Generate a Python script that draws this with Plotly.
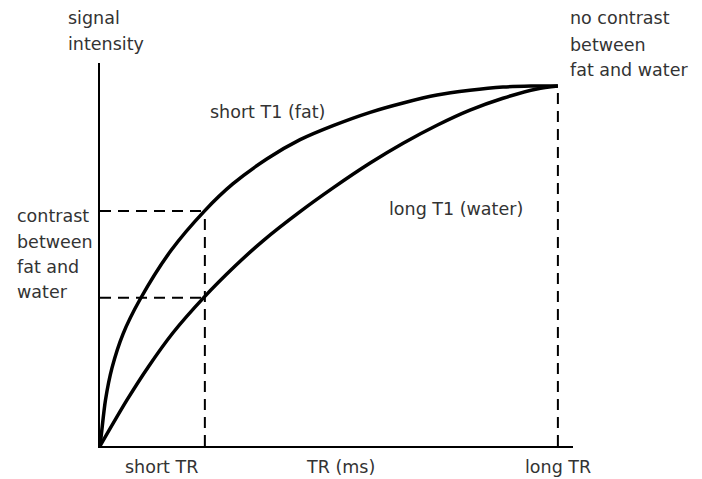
import plotly.graph_objects as go

# ---- data (TR and signal in arbitrary 0-100 units) ----
fat_tr = [0, 0.33, 1.2, 2.62, 5.02, 8.73, 15.5, 22.9, 29.0, 36.5, 43.7, 50.9, 59.0, 66.2, 73.6, 80.8, 88.0, 94.1, 100]
fat_signal = [0, 3.6, 12.8, 21.7, 31.1, 40.7, 54.3, 65.4, 72.8, 79.8, 85.1, 89.0, 92.7, 95.3, 97.5, 98.8, 99.7, 99.98, 100]

water_tr = [0, 5.9, 10.5, 15.9, 22.7, 29.5, 35.6, 43.7, 50.9, 59.0, 66.2, 73.6, 80.8, 88.0, 95.4, 100]
water_signal = [0, 12.8, 21.9, 31.4, 41.3, 50.0, 57.0, 65.1, 71.7, 78.6, 84.1, 89.1, 93.3, 96.6, 99.2, 100]

short_tr = 22.9
long_tr = 100
fat_at_short = 65.3
water_at_short = 41.2
signal_at_long = 100

x_labels = ["short TR", "TR (ms)", "long TR"]
x_label_pos = [13.5, 52.5, 100]

# ---- layout geometry (page body adds an 8px offset) ----
OFF = 8
W, H = 702 - OFF, 479 - OFF
ML, MR, MT, MB = 100 - OFF, 129, 63 - OFF, 33
X_MAX = 103.3
Y_MAX = 106.4
PW = W - ML - MR
PH = H - MT - MB

TEXT = "#333333"
FONT = "DejaVu Sans"
FS = 17.5

fig = go.Figure()

dash_style = dict(color="black", width=2, dash="11px,7px")

# dashed guides
fig.add_trace(go.Scatter(x=[short_tr, short_tr], y=[0, fat_at_short], mode="lines",
                         line=dash_style, hoverinfo="skip", cliponaxis=False))
fig.add_trace(go.Scatter(x=[0, short_tr], y=[fat_at_short, fat_at_short], mode="lines",
                         line=dash_style, hoverinfo="skip", cliponaxis=False))
fig.add_trace(go.Scatter(x=[0, short_tr], y=[water_at_short, water_at_short], mode="lines",
                         line=dash_style, hoverinfo="skip", cliponaxis=False))
fig.add_trace(go.Scatter(x=[long_tr, long_tr], y=[0, signal_at_long], mode="lines",
                         line=dash_style, hoverinfo="skip", cliponaxis=False))

# curves
fig.add_trace(go.Scatter(x=fat_tr, y=fat_signal, mode="lines", name="short T1 (fat)",
                         line=dict(color="black", width=3.5, shape="spline", smoothing=0.8),
                         cliponaxis=False))
fig.add_trace(go.Scatter(x=water_tr, y=water_signal, mode="lines", name="long T1 (water)",
                         line=dict(color="black", width=3.5, shape="spline", smoothing=0.8),
                         cliponaxis=False))

annotations = []

def txt(text, px, py, xanchor="left"):
    # px, py: position in the page picture
    annotations.append(dict(text=text, x=(px - 100) / PW, y=1 - (py - 63) / PH,
                            xref="paper", yref="paper",
                            xanchor=xanchor, yanchor="middle", showarrow=False,
                            font=dict(family=FONT, size=FS, color=TEXT)))

# y-axis title
txt("signal", 66, 18)
txt("intensity", 66, 44)
# top right
txt("no contrast", 568, 18)
txt("between", 568, 45)
txt("fat and water", 568, 70)
# left contrast label
txt("contrast", 15, 216)
txt("between", 15, 242)
txt("fat and", 15, 267)
txt("water", 15, 292)
# curve labels
txt("short T1 (fat)", 208, 112)
txt("long T1 (water)", 387, 209)

# x labels below axis
for lab, xv in zip(x_labels, x_label_pos):
    annotations.append(dict(text=lab, x=xv, y=0, xref="x", yref="paper", yshift=-21,
                            xanchor="center", yanchor="middle", showarrow=False,
                            font=dict(family=FONT, size=FS, color=TEXT)))

fig.update_layout(
    width=W, height=H,
    margin=dict(l=ML, r=MR, t=MT, b=MB, pad=0),
    plot_bgcolor="white", paper_bgcolor="white",
    showlegend=False,
    annotations=annotations,
    xaxis=dict(range=[0, X_MAX], showgrid=False, zeroline=False, showticklabels=False,
               ticks="", showline=True, linecolor="black", linewidth=2),
    yaxis=dict(range=[0, Y_MAX], showgrid=False, zeroline=False, showticklabels=False,
               ticks="", showline=True, linecolor="black", linewidth=2),
)

fig.write_html("out.html")
